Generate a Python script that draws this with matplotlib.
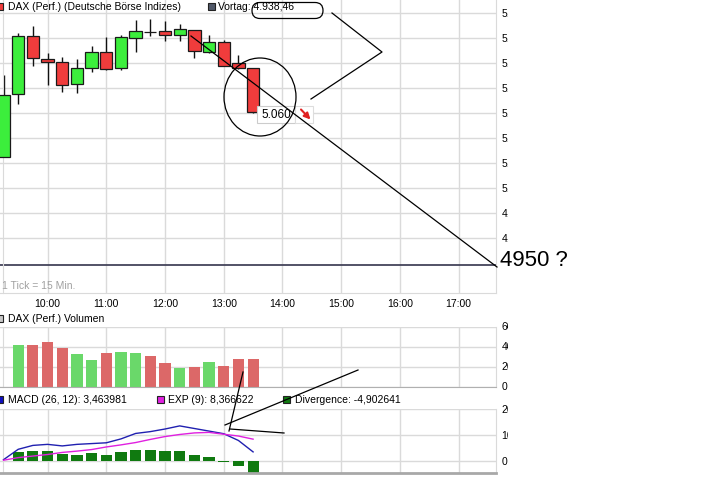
import matplotlib
matplotlib.use("Agg")
import matplotlib.pyplot as plt
from matplotlib.patches import Rectangle, Ellipse, FancyBboxPatch, FancyArrowPatch
from matplotlib.lines import Line2D
from matplotlib.transforms import Affine2D, Bbox
from matplotlib.ticker import FuncFormatter

plt.rcParams['font.family'] = ['Liberation Sans', 'DejaVu Sans']

# DAX 15 min candles
times = ["09:15", "09:30", "09:45", "10:00", "10:15", "10:30", "10:45", "11:00", "11:15",
         "11:30", "11:45", "12:00", "12:15", "12:30", "12:45", "13:00", "13:15", "13:30"]
opens = [5024.8, 5075.2, 5121.6, 5103.0, 5100.8, 5083.2, 5096.0, 5108.8, 5096.0,
         5120.0, 5124.8, 5125.6, 5122.4, 5126.4, 5109.0, 5116.6, 5099.8, 5095.8]
highs = [5090.4, 5124.2, 5129.6, 5108.0, 5104.8, 5103.2, 5113.6, 5120.8, 5122.4,
         5134.4, 5135.2, 5133.6, 5131.2, 5126.4, 5122.4, 5118.4, 5106.4, 5095.8]
lows = [5024.6, 5067.2, 5097.6, 5082.4, 5076.8, 5076.0, 5092.8, 5094.4, 5094.4,
        5108.8, 5121.6, 5117.6, 5117.6, 5104.2, 5108.0, 5097.6, 5095.2, 5060.0]
closes = [5074.4, 5121.6, 5104.0, 5100.6, 5082.4, 5096.0, 5108.8, 5095.2, 5120.8,
          5125.6, 5124.8, 5122.4, 5127.2, 5109.8, 5117.0, 5097.8, 5095.7, 5060.6]

vortag = 4938.46
price_ticks = [4960, 4980, 5000, 5020, 5040, 5060, 5080, 5100, 5120, 5140]
hour_ticks = [10, 11, 12, 13, 14, 15, 16, 17]

# volume (thousands), from 09:30 on
volume = [41.5, 41.5, 44.5, 38.5, 32.5, 26.5, 33.5, 34.5, 33.5,
          30.5, 23.5, 18.5, 19.5, 24.5, 20.5, 27.5, 27.5]
vol_ticks = [0, 20, 40, 60]

# MACD
macd = [0.5, 4.5, 6.0, 6.4, 5.8, 6.4, 6.7, 7.0, 8.5, 10.6, 11.3, 12.3, 13.5, 12.5, 11.5, 10.5, 7.9, 3.5]
exp9 = [0.3, 1.3, 1.9, 2.5, 3.3, 3.8, 4.4, 5.4, 6.2, 7.1, 8.3, 9.4, 10.2, 10.8, 11.0, 10.3, 9.6, 8.4]
divergence = [3.6, 4.0, 3.8, 2.7, 2.3, 3.2, 2.3, 3.6, 4.2, 4.2, 3.8, 3.8, 2.3, 1.4, -0.5, -1.8, -4.9]
macd_ticks = [0, 10, 20]


def hrs(t):
    h, m = t.split(":")
    return int(h) + int(m) / 60


x = [hrs(t) for t in times]
xv = x[1:]

W, H = 710, 503
fig = plt.figure(figsize=(W / 100, H / 100), dpi=100)
pix = Affine2D().scale(1 / W, -1 / H).translate(0, 1) + fig.transFigure


def box(top, bottom):
    return [0, 1 - bottom / H, 496 / W, (bottom - top) / H]


grid_c = "#dadada"
green, red = "#3cee3c", "#f03c3c"
vgreen, vred = "#6ad86a", "#dc6868"
xlim = (9.19, 17.6366)
left_edge = 9.236

ax = fig.add_axes(box(0, 293))
axv = fig.add_axes(box(326.5, 386.5))
axm = fig.add_axes(box(408.5, 472.5))

for a in (ax, axv, axm):
    a.set_xlim(*xlim)
    a.set_xticks(hour_ticks)
    a.grid(True, color=grid_c, lw=1)
    a.set_axisbelow(True)
    a.yaxis.tick_right()
    a.tick_params(length=0, labelsize=7.5, pad=4)
    for s in a.spines.values():
        s.set_color(grid_c)
    a.spines["top"].set_visible(False)
    a.spines["left"].set_position(("data", left_edge))

# main candles
ax.vlines(x, lows, highs, color="#111111", lw=1, zorder=2)
body_c = [green if c > o else red for o, c in zip(opens, closes)]
ax.bar(x, [abs(c - o) for o, c in zip(opens, closes)], bottom=[min(o, c) for o, c in zip(opens, closes)],
       width=0.21, color=body_c, edgecolor="#1a1a1a", lw=0.9, zorder=3)
ax.axhline(vortag, color="#44445a", lw=1.3, zorder=2)
ax.set_ylim(4916, 5150.4)
ax.set_yticks(price_ticks)
ax.yaxis.set_major_formatter(FuncFormatter(lambda v, p: f"{v:,.0f}".replace(",", ".")))
ax.xaxis.set_major_formatter(FuncFormatter(lambda v, p: f"{int(v)}:00"))
ax.tick_params(axis="x", pad=4)

# volume
vol_c = [vgreen if c > o else vred for o, c in zip(opens[1:], closes[1:])]
axv.bar(xv, volume, width=0.19, color=vol_c, zorder=2)
axv.set_ylim(0, 60)
axv.set_yticks(vol_ticks)
axv.yaxis.set_major_formatter(FuncFormatter(lambda v, p: f"{v * 1000:,.0f}".replace(",", ".")))
axv.set_xticklabels([])
axv.spines["bottom"].set_color("#b0b0b0")

# MACD
axm.bar(xv, divergence, width=0.19, color="#107a10", zorder=2)
axm.plot(x, macd, color="#2020b0", lw=1, zorder=3)
axm.plot(x, exp9, color="#e020e0", lw=1, zorder=3)
axm.set_ylim(-4.42, 20.19)
axm.set_yticks(macd_ticks)
axm.yaxis.set_major_formatter(FuncFormatter(lambda v, p: f"{v:.0f}"))
axm.set_xticklabels([])
axm.spines["bottom"].set_color("#a8a8a8")
axm.spines["bottom"].set_linewidth(2)


def sq(x0, y0, fc):
    fig.add_artist(Rectangle((x0, y0), 7, 7, transform=pix, facecolor=fc, edgecolor="#222222", lw=0.8))


def txt(x0, y0, s, **kw):
    kw.setdefault("fontsize", 7.5)
    fig.text(x0, y0, s, transform=pix, va="center", ha="left", **kw)


# legend rows
sq(-4, 3, red)
txt(8, 7, "DAX (Perf.) (Deutsche Börse Indizes)")
sq(208, 3, "#505868")
txt(218, 7, "Vortag: 4.938,46")
sq(-4, 315.5, "#c8c8c8")
txt(8, 319.5, "DAX (Perf.) Volumen")
sq(-4, 396.5, "#1010c0")
txt(8, 400.5, "MACD (26, 12): 3,463981")
sq(157, 396.5, "#e020e0")
txt(168, 400.5, "EXP (9): 8,366622")
sq(283, 396.5, "#107a10")
txt(295, 400.5, "Divergence: -4,902641")
txt(2, 286, "1 Tick = 15 Min.", color="#a0a0a0")

# last price label
fig.add_artist(Rectangle((257, 106), 38, 17, transform=pix, facecolor="white", edgecolor="#cccccc", lw=0.8))
fig.add_artist(Rectangle((295, 106), 18, 17, transform=pix, facecolor="white", edgecolor="#dddddd", lw=0.8))
fig.text(276, 115, "5.060", transform=pix, va="center", ha="center", fontsize=8.5)
fig.add_artist(FancyArrowPatch((301, 109.5), (310.5, 119.5), transform=pix, arrowstyle="-|>",
                               mutation_scale=9, shrinkA=0, shrinkB=0, color="#e02020", lw=1.5))

# hand drawn notes
ink = dict(transform=pix, color="black", lw=0.9)
fig.add_artist(Line2D([191, 497], [36, 267], **ink))
fig.add_artist(Line2D([332, 382, 311], [13, 52, 99], **ink))
fig.add_artist(Line2D([358, 225], [370, 425], **ink))
fig.add_artist(Line2D([243, 229], [372, 431], **ink))
fig.add_artist(Line2D([230, 284], [429, 433], **ink))
fig.add_artist(Ellipse((260, 97), 72, 78, transform=pix, fill=False, edgecolor="black", lw=0.9))
fig.add_artist(FancyBboxPatch((252, 2.5), 71, 16, boxstyle="round,pad=0,rounding_size=8",
                              transform=pix, fill=False, edgecolor="black", lw=0.9))
fig.text(500, 261, "4950 ?", transform=pix, va="center", ha="left", fontsize=16)

# right labels are cut off in the original
fig.canvas.draw()
clip = Bbox.from_extents(0, 0, 507.5, H)
for a in (ax, axv, axm):
    for lab in a.get_yticklabels():
        lab.set_clip_box(clip)
        lab.set_clip_on(True)

fig.savefig("out.png", dpi=100, facecolor="white")
